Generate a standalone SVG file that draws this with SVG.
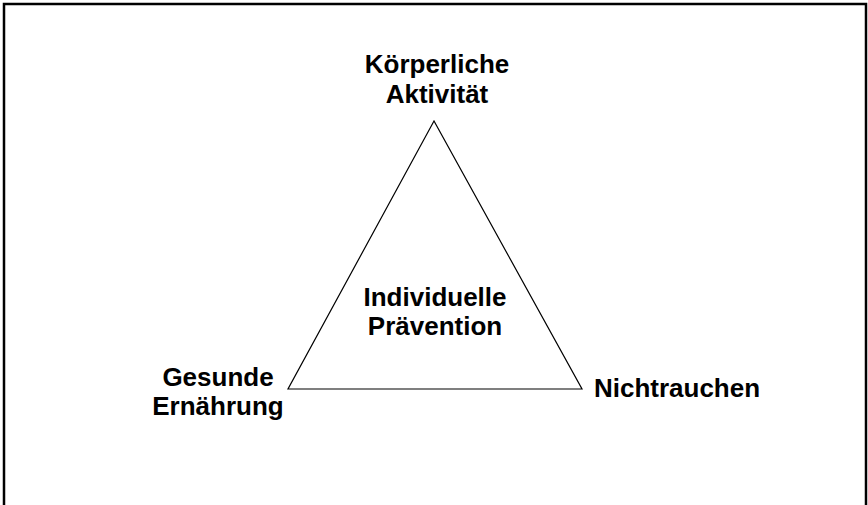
<svg xmlns="http://www.w3.org/2000/svg" width="868" height="505" viewBox="0 0 868 505">
<style>
.t{font-family:"Liberation Sans",Arial,sans-serif;font-weight:bold;font-size:26px;fill:#000;text-anchor:middle}
</style>
<rect x="0" y="0" width="868" height="505" fill="#fff"/>
<rect id="frame" x="4" y="4" width="862" height="520" fill="none" stroke="#000" stroke-width="2.5"/>
<g id="connectors">
<polygon points="434,121 288,389 582,389" fill="none" stroke="#000" stroke-width="1.2"/>
</g>
<g id="center"><text class="t" x="435" y="306">Individuelle</text><text class="t" x="435" y="335">Prävention</text></g>
<g id="top"><text class="t" x="437" y="73">Körperliche</text><text class="t" x="437" y="103">Aktivität</text></g>
<g id="left"><text class="t" x="218" y="386">Gesunde</text><text class="t" x="218" y="415">Ernährung</text></g>
<g id="right"><text class="t" x="677" y="397">Nichtrauchen</text></g>
</svg>
